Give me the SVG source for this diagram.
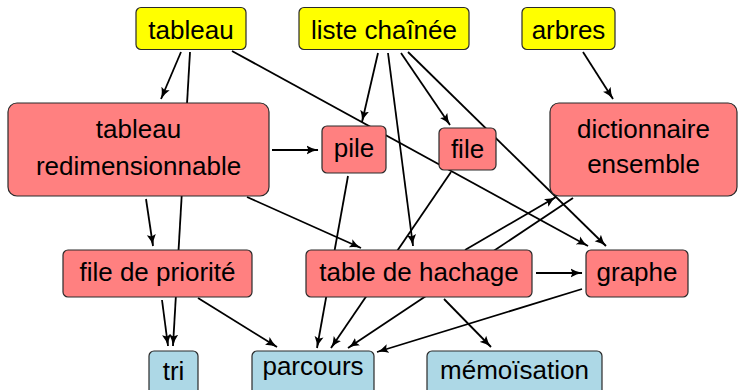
<svg xmlns="http://www.w3.org/2000/svg" width="740" height="390" viewBox="0 0 740 390">
  <style>
    .n rect { stroke: #2a2a2a; stroke-width: 1.2; }
    .src rect { fill: #ffff00; }
    .mid rect { fill: #ff8080; }
    .out rect { fill: #add8e6; }
    text { font-family: "Liberation Sans", Arial, sans-serif; font-size: 26px; fill: #000; text-anchor: middle; }
    .e line { stroke: #000; stroke-width: 1.8; marker-end: url(#tip); }
  </style>
  <defs>
    <marker id="tip" markerUnits="userSpaceOnUse" markerWidth="12" markerHeight="10" viewBox="0 0 12 10" refX="11.5" refY="5" orient="auto">
      <path d="M0,0.5 Q5.5,4 12,5 Q5.5,6 0,9.5 L2,5 Z" fill="#000"/>
    </marker>
  </defs>

  <!-- connectors, drawn first so the boxes cover them -->
  <g id="edges" class="e">
    <line x1="181" y1="52" x2="161" y2="99"/>
    <line x1="190" y1="52" x2="173" y2="346"/>
    <line x1="232" y1="51" x2="588" y2="246"/>
    <line x1="378" y1="53" x2="362" y2="122"/>
    <line x1="388" y1="53" x2="413" y2="246"/>
    <line x1="401" y1="53" x2="450" y2="125"/>
    <line x1="408" y1="52" x2="606" y2="246"/>
    <line x1="583" y1="52" x2="613" y2="99"/>
    <line x1="272" y1="150" x2="318" y2="150"/>
    <line x1="146" y1="199" x2="153" y2="246"/>
    <line x1="247" y1="197" x2="361" y2="248"/>
    <line x1="348" y1="176" x2="317" y2="348"/>
    <line x1="451" y1="172" x2="331" y2="348"/>
    <line x1="573" y1="198" x2="348" y2="348"/>
    <line x1="465" y1="250" x2="556" y2="197"/>
    <line x1="444" y1="299" x2="491" y2="347"/>
    <line x1="536" y1="273" x2="582" y2="273"/>
    <line x1="582" y1="289" x2="377" y2="352"/>
    <line x1="162" y1="300" x2="168" y2="346"/>
    <line x1="198" y1="298" x2="277" y2="347"/>
  </g>

  <!-- top row -->
  <g id="tableau" class="n src">
    <rect x="136" y="7.5" width="110" height="42" rx="5"/>
    <text x="191" y="39">tableau</text>
  </g>
  <g id="liste-chainee" class="n src">
    <rect x="299" y="7.5" width="170" height="42" rx="5"/>
    <text x="384" y="39">liste chaînée</text>
  </g>
  <g id="arbres" class="n src">
    <rect x="522" y="7.5" width="93" height="42" rx="5"/>
    <text x="568.5" y="39">arbres</text>
  </g>

  <!-- second row -->
  <g id="tableau-redimensionnable" class="n mid">
    <rect x="8" y="103" width="261" height="93" rx="9"/>
    <text x="138.5" y="138">tableau</text>
    <text x="138.5" y="175">redimensionnable</text>
  </g>
  <g id="pile" class="n mid">
    <rect x="322" y="126" width="64" height="47" rx="5"/>
    <text x="354" y="157">pile</text>
  </g>
  <g id="file" class="n mid">
    <rect x="439" y="128" width="57" height="42" rx="5"/>
    <text x="467.5" y="158">file</text>
  </g>
  <g id="dictionnaire" class="n mid">
    <rect x="550" y="103" width="187" height="93" rx="9"/>
    <text x="643.5" y="138">dictionnaire</text>
    <text x="643.5" y="173">ensemble</text>
  </g>

  <!-- third row -->
  <g id="file-de-priorite" class="n mid">
    <rect x="63" y="250" width="189" height="47" rx="5"/>
    <text x="157.5" y="281">file de priorité</text>
  </g>
  <g id="table-de-hachage" class="n mid">
    <rect x="306" y="250" width="226" height="47" rx="5"/>
    <text x="419" y="281">table de hachage</text>
  </g>
  <g id="graphe" class="n mid">
    <rect x="586" y="250" width="102" height="47" rx="5"/>
    <text x="637" y="281">graphe</text>
  </g>

  <!-- bottom row -->
  <g id="tri" class="n out">
    <rect x="149" y="351" width="49" height="50" rx="5"/>
    <text x="173.5" y="380">tri</text>
  </g>
  <g id="parcours" class="n out">
    <rect x="252" y="351" width="122" height="50" rx="5"/>
    <text x="313" y="375">parcours</text>
  </g>
  <g id="memoisation" class="n out">
    <rect x="427" y="351" width="175" height="50" rx="5"/>
    <text x="514.5" y="379">mémoïsation</text>
  </g>
</svg>
